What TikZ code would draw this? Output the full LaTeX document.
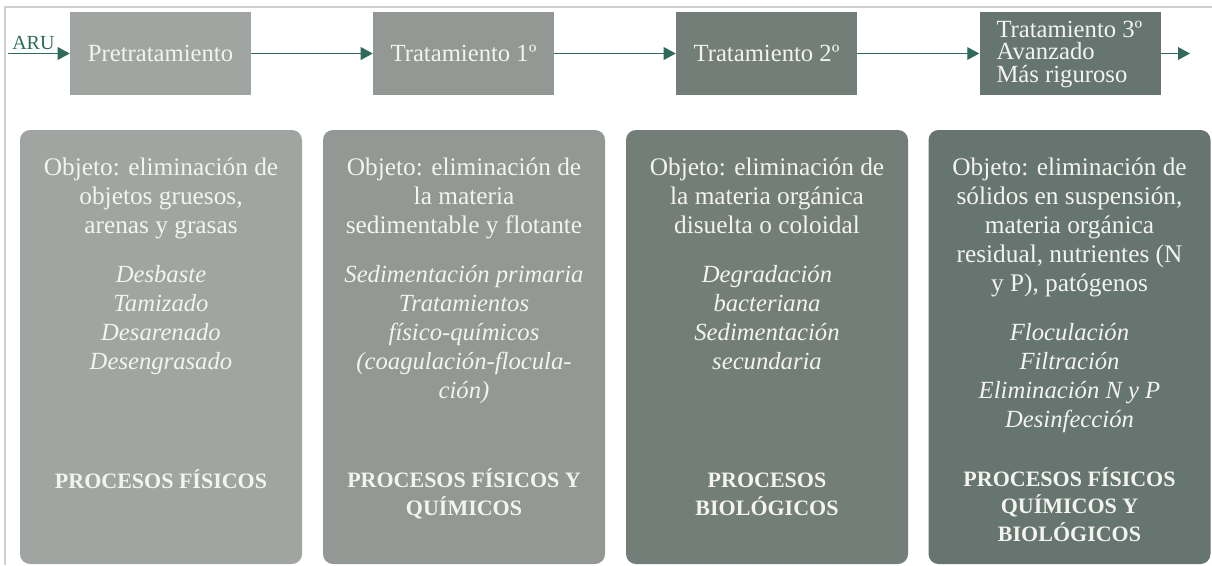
\documentclass[tikz,border=0pt]{standalone}
\usepackage{fontspec}
\setmainfont{Liberation Serif}
\usetikzlibrary{arrows.meta}
\definecolor{cA}{HTML}{A1A5A2}
\definecolor{cB}{HTML}{939894}
\definecolor{cC}{HTML}{737E79}
\definecolor{cD}{HTML}{66756F}
\definecolor{arrowc}{HTML}{2F6A5B}
\definecolor{txt}{HTML}{F3F3EF}
\definecolor{framec}{HTML}{CFCFCF}
\begin{document}
\begin{tikzpicture}[x=0.75pt,y=-0.75pt,
  topbox/.style={minimum width=135.75pt,minimum height=62.25pt,inner sep=0pt,text=txt,font=\fontsize{18.5}{20}\selectfont},
  botbox/.style={minimum width=211.5pt,minimum height=325.5pt,inner sep=0pt,rounded corners=7.5pt},
  flow/.style={draw=arrowc,line width=1.1pt,-{Triangle[length=9pt,width=9.5pt]}},
  body/.style={text=txt,align=center,anchor=base,inner sep=0pt,font=\fontsize{19}{21.75}\selectfont},
  ital/.style={body,font=\fontsize{18.5}{21.75}\selectfont\itshape},
  bold/.style={body,font=\fontsize{16.5}{20.4}\selectfont\bfseries}
]
\useasboundingbox (0,0) rectangle (1212,565);
\draw[framec,line width=1.1pt] (1212,7) -- (5,7) -- (5,565);

% top row
\node[topbox,fill=cA] (p) at (160.5,53.5) {Pretratamiento};
\node[topbox,fill=cB] (t1) at (463.5,53.5) {Tratamiento 1º};
\node[topbox,fill=cC] (t2) at (766.5,53.5) {Tratamiento 2º};
\node[topbox,fill=cD] (t3) at (1070,53.5) {};
\node[anchor=west,align=left,inner sep=0pt,text=txt,font=\fontsize{18.5}{16.9}\selectfont] (t3txt) at ([xshift=12.75pt,yshift=-0.5pt]t3.west) {Tratamiento 3º\\Avanzado\\Más riguroso};

\coordinate (in) at (8,53.5);
\coordinate (out) at (1190,53.5);
\node[anchor=base west,inner sep=0pt,text=arrowc,font=\fontsize{15}{15}\selectfont] (aru) at (12,49.5) {ARU};
\draw[flow] (in) -- (p.west);
\draw[flow] (p.east) -- (t1.west);
\draw[flow] (t1.east) -- (t2.west);
\draw[flow] (t2.east) -- (t3.west);
\draw[flow] (t3.east) -- (out);

% bottom row
\node[botbox,fill=cA] (b1) at (161,347) {};
\node[botbox,fill=cB] (b2) at (464,347) {};
\node[botbox,fill=cC] (b3) at (767,347) {};
\node[botbox,fill=cD] (b4) at (1069.5,347) {};

% anchor=base is the baseline of the last line
\node[body] (o1) at (161,233) {Objeto: eliminación de\\objetos gruesos,\\arenas y grasas};
\node[ital] (i1) at (161,369) {Desbaste\\Tamizado\\Desarenado\\Desengrasado};
\node[bold] (f1) at (161,488) {PROCESOS FÍSICOS};

\node[body] (o2) at (464,233) {Objeto: eliminación de\\la materia\\sedimentable y flotante};
\node[ital] (i2) at (464,398) {Sedimentación primaria\\Tratamientos\\físico-químicos\\(coagulación-flocula-\\ción)};
\node[bold] (f2) at (464,515) {PROCESOS FÍSICOS Y\\QUÍMICOS};

\node[body] (o3) at (767,233) {Objeto: eliminación de\\la materia orgánica\\disuelta o coloidal};
\node[ital] (i3) at (767,369) {Degradación\\bacteriana\\Sedimentación\\secundaria};
\node[bold] (f3) at (767,515) {PROCESOS\\BIOLÓGICOS};

\node[body] (o4) at (1069.5,291) {Objeto: eliminación de\\sólidos en suspensión,\\materia orgánica\\residual, nutrientes (N\\y P), patógenos};
\node[ital] (i4) at (1069.5,427) {Floculación\\Filtración\\Eliminación N y P\\Desinfección};
\node[bold] (f4) at (1069.5,541) {PROCESOS FÍSICOS\\QUÍMICOS Y\\BIOLÓGICOS};
\end{tikzpicture}
\end{document}
